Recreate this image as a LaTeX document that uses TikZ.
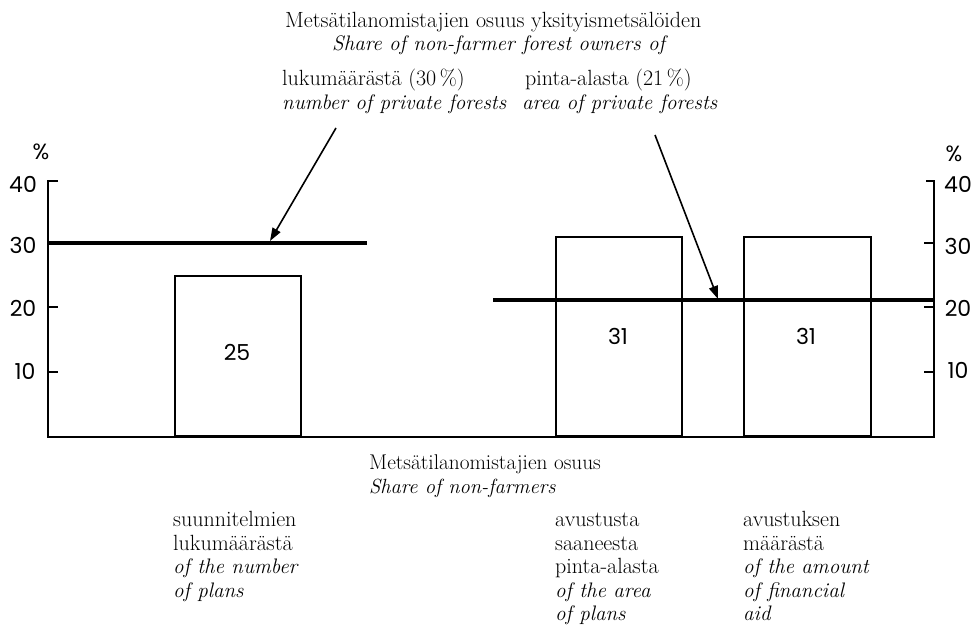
\documentclass[tikz,border=0pt]{standalone}
\usepackage{fontspec}
\newfontfamily\numfont{Poppins}
\usetikzlibrary{arrows.meta}
\begin{document}
\begin{tikzpicture}[x=1pt,y=-1pt,
  txt/.style={anchor=base west,inner sep=0pt,font=\fontsize{22}{24}\selectfont},
  itx/.style={txt,font=\fontsize{21}{24}\selectfont\itshape},
  num/.style={inner sep=0pt,font=\numfont\fontsize{22}{24}\selectfont},
  axis/.style={line width=2.4pt},
  bar/.style={draw,line width=1.8pt},
  share/.style={line width=4pt},
  arr/.style={line width=1.6pt,-{Triangle[length=13pt,width=9pt]}}]
\useasboundingbox (0,0) rectangle (974,628);
% axes
\draw[axis] (58,181) -- (48,181) -- (48,437) -- (934,437) -- (934,181) -- (926,181);
\foreach \y in {243,307,372}{\draw[axis] (48,\y) -- (58,\y); \draw[axis] (934,\y) -- (924,\y);}
% bars
\node[bar,anchor=south west,minimum width=126pt,minimum height=160pt,inner sep=0pt] (b1) at (174,437) {};
\node[bar,anchor=south west,minimum width=126pt,minimum height=199pt,inner sep=0pt] (b2) at (555,437) {};
\node[bar,anchor=south west,minimum width=127pt,minimum height=199pt,inner sep=0pt] (b3) at (743,437) {};
\node[num] (v1) at (237,352) {25};
\node[num] (v2) at (618,336) {31};
\node[num] (v3) at (806,336) {31};
% share lines
\coordinate (l1a) at (48,243); \coordinate (l1b) at (367,243);
\coordinate (l2a) at (493,300); \coordinate (l2b) at (934,300);
\draw[share] (l1a) -- (l1b);
\draw[share] (l2a) -- (l2b);
% axis labels
\node[num] (pl) at (41,152) {\%};
\node[num] (y40) at (23,184) {40};
\node[num] (y30) at (23,245) {30};
\node[num] (y20) at (23,308) {20};
\node[num] (y10) at (25,371) {10};
\node[num] (pr) at (954,154) {\%};
\node[num] (r40) at (958,184) {40};
\node[num] (r30) at (958,246) {30};
\node[num] (r20) at (958,308) {20};
\node[num] (r10) at (958,370) {10};
% top texts
\node[txt] (t1) at (285,28) {Metsätilanomistajien osuus yksityismetsälöiden};
\node[itx] (t2) at (332,51) {Share of non-farmer forest owners of};
\node[txt] (t3) at (282,86) {lukumäärästä (30\,\%)};
\node[itx] (t4) at (282,110) {number of private forests};
\node[txt] (t5) at (525,86) {pinta-alasta (21\,\%)};
\node[itx] (t6) at (522,110) {area of private forests};
% arrows
\coordinate (a1s) at (336,128); \coordinate (a1e) at (270,241);
\coordinate (a2s) at (655,135); \coordinate (a2e) at (718,299);
\draw[arr] (a1s) -- (a1e);
\draw[arr] (a2s) -- (a2e);
% bottom texts
\node[txt,font=\fontsize{21.3}{24}\selectfont] (m1) at (369,469) {Metsätilanomistajien osuus};
\node[itx,font=\fontsize{20.5}{24}\selectfont\itshape] (m2) at (369,493) {Share of non-farmers};
\node[txt] (c11) at (173,526) {suunnitelmien};
\node[txt] (c12) at (173,550) {lukumäärästä};
\node[itx] (c13) at (173,573) {of the number};
\node[itx] (c14) at (173,597) {of plans};
\node[txt] (c21) at (555,526) {avustusta};
\node[txt] (c22) at (555,550) {saaneesta};
\node[txt] (c23) at (555,573) {pinta-alasta};
\node[itx] (c24) at (555,597) {of the area};
\node[itx] (c25) at (555,620) {of plans};
\node[txt] (c31) at (743,526) {avustuksen};
\node[txt] (c32) at (743,550) {määrästä};
\node[itx] (c33) at (743,573) {of the amount};
\node[itx] (c34) at (743,597) {of financial};
\node[itx] (c35) at (743,620) {aid};
\end{tikzpicture}
\end{document}
